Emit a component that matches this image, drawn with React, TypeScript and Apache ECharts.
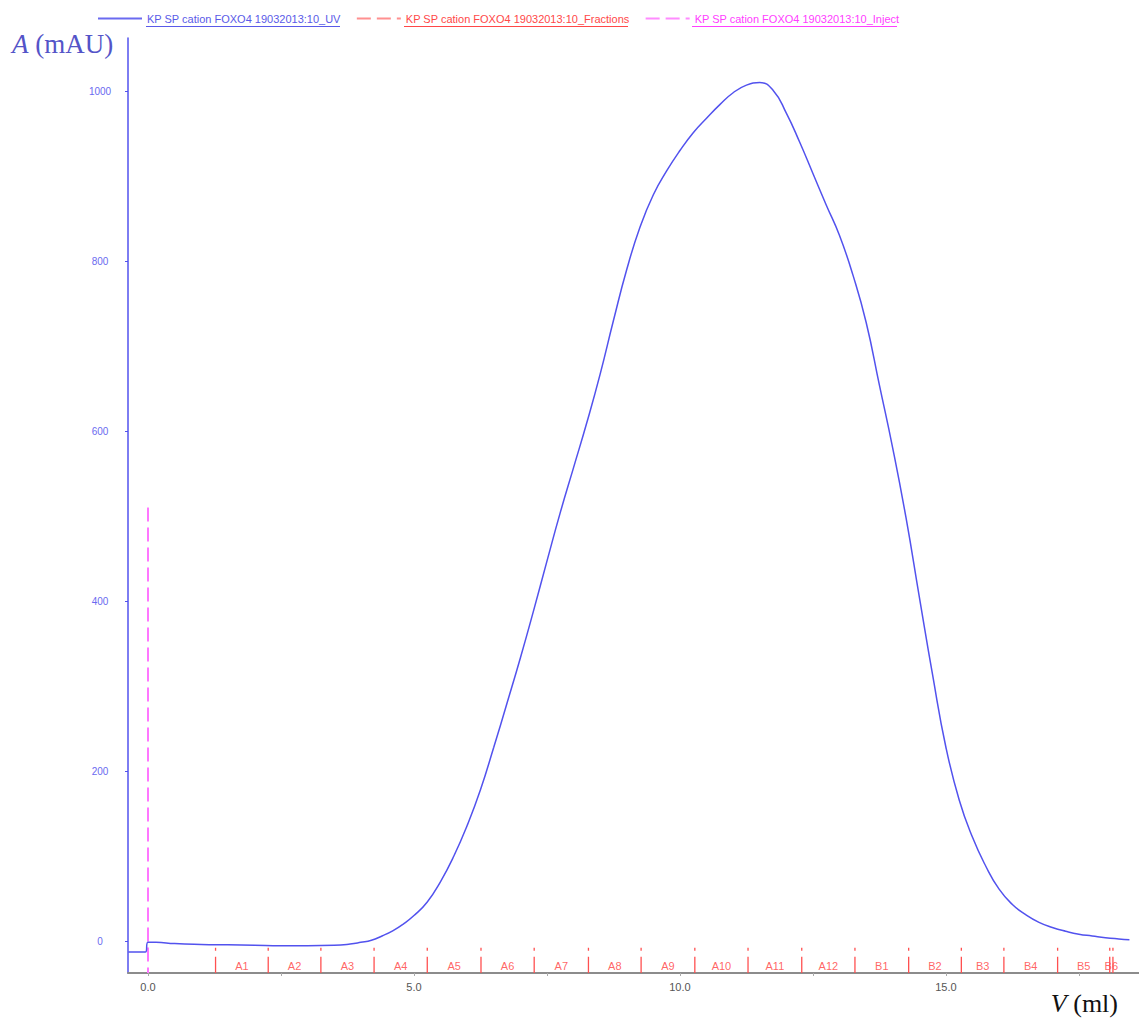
import React, { useEffect, useRef } from "react";
import * as echarts from "echarts";

// ---- data ----
const uvVolume = [
  -0.37, -0.05, 0.0, 0.15, 0.5, 1.0, 1.5, 2.0, 2.5, 3.0, 3.5, 3.8, 4.0, 4.2, 4.4, 4.6, 4.8,
  5.0, 5.25, 5.5, 5.75, 6.0, 6.25, 6.5, 6.75, 7.0, 7.25, 7.5, 7.75, 8.0, 8.25, 8.5, 8.75,
  9.0, 9.25, 9.5, 9.75, 10.0, 10.25, 10.5, 10.75, 11.0, 11.25, 11.5, 11.75, 12.0, 12.25,
  12.5, 12.75, 13.0, 13.25, 13.5, 13.75, 14.0, 14.25, 14.5, 14.75, 15.0,
  15.25, 15.5, 15.75, 16.0, 16.25, 16.5, 16.75, 17.0, 17.25, 17.5, 17.75, 18.0, 18.25, 18.45,
];
const uvAbsorbance = [
  -13, -13, -1.5, -1.5, -3, -4, -4.5, -5, -5.5, -5.5, -5, -3.5, -1.5, 1, 6, 12, 20,
  30, 46, 70, 100, 136, 178, 228, 280, 333, 389, 447, 504, 557, 610, 667, 730,
  790, 840, 878, 906, 930, 951, 968, 984, 998, 1007, 1010, 1001, 974, 940,
  903, 866, 830, 784, 728, 654, 580, 498, 405, 313, 228,
  166, 122, 88, 61, 43, 31, 22, 16, 11.5, 8, 6, 4, 2.5, 1.5,
];
const fractionBoundaries = [
  1.27, 2.26, 3.25, 4.25, 5.25, 6.26, 7.26, 8.28, 9.27, 10.28, 11.28, 12.29, 13.29,
  14.3, 15.29, 16.09, 17.1, 18.08, 18.14,
];
const fractionNames = [
  "A1", "A2", "A3", "A4", "A5", "A6", "A7", "A8", "A9", "A10", "A11", "A12",
  "B1", "B2", "B3", "B4", "B5", "B6",
];
const injectVolume = 0;
const injectTop = 510;
const xLabelTicks = [0, 5, 10, 15];
const xMinorTicks = [0, 2.5, 5, 7.5, 10, 12.5, 15, 17.5];
const yTicks = [0, 200, 400, 600, 800, 1000];

const UV_NAME = "KP SP cation FOXO4 19032013:10_UV";
const FR_NAME = "KP SP cation FOXO4 19032013:10_Fractions";
const INJ_NAME = "KP SP cation FOXO4 19032013:10_Inject";

const X_MIN = -0.376;
const X_MAX = 18.63;
const Y_MIN = -37.6;
const Y_MAX = 1062.4;

const BLUE = "#5252ee";
const RED = "#ff5050";
const MAGENTA = "#ff77ff";

export default function App() {
  const ref = useRef<HTMLDivElement>(null);

  useEffect(() => {
    if (!ref.current) return;
    const chart = echarts.init(ref.current, undefined, { renderer: "svg" });

    const uvData = uvVolume.map((v, i) => [v, uvAbsorbance[i]]);
    const fracData: any[] = [];
    fractionBoundaries.forEach((b) => {
      fracData.push([b, -8]);
      fracData.push([b, Y_MIN]);
      fracData.push([b, "-"]);
    });
    const fracLabels = fractionNames.map((n, i) => ({
      name: n,
      value: [(fractionBoundaries[i] + fractionBoundaries[i + 1]) / 2, -29],
    }));

    const sansFont = "Liberation Sans, Arial, sans-serif";
    const serifFont = "'Liberation Serif', 'Times New Roman', serif";

    chart.setOption({
      animation: false,
      backgroundColor: "#ffffff",
      grid: {
        left: 128,
        right: 0,
        top: 38,
        bottom: 49,
        containLabel: false,
        outerBoundsMode: "none",
      },
      legend: {
        left: 97,
        top: 13,
        padding: 0,
        itemWidth: 44,
        itemHeight: 14,
        itemGap: 15,
        selectedMode: false,
        itemStyle: { opacity: 0 },
        textStyle: { fontSize: 11, fontFamily: sansFont },
        data: [
          {
            name: UV_NAME,
            textStyle: { color: "#5a5ae8" },
            itemStyle: { opacity: 0 },
            lineStyle: { color: "#6a6af0", width: 2 },
          },
          {
            name: FR_NAME,
            textStyle: { color: "#ff4848" },
            itemStyle: { opacity: 0 },
            lineStyle: { type: [14, 6], color: "#ff9090", width: 2 },
          },
          {
            name: INJ_NAME,
            textStyle: { color: "#ff40ff" },
            itemStyle: { opacity: 0 },
            lineStyle: { type: [14, 6], color: "#ff8cff", width: 2 },
          },
        ],
      },
      xAxis: {
        type: "value",
        min: X_MIN,
        max: X_MAX,
        splitLine: { show: false },
        axisLine: { show: true, onZero: false, lineStyle: { color: "#8c8c8c", width: 2 } },
        axisTick: {
          show: true,
          customValues: xMinorTicks,
          length: 3,
          lineStyle: { color: "#aaaaaa" },
        },
        axisLabel: {
          customValues: xLabelTicks,
          formatter: (v: number) => v.toFixed(1),
          color: "#555555",
          fontSize: 11,
          fontFamily: sansFont,
          margin: 8,
        },
      },
      yAxis: {
        type: "value",
        min: Y_MIN,
        max: Y_MAX,
        splitLine: { show: false },
        axisLine: { show: true, onZero: false, lineStyle: { color: BLUE, width: 1.5 } },
        axisTick: {
          show: true,
          customValues: yTicks,
          length: 3,
          lineStyle: { color: BLUE },
        },
        axisLabel: {
          customValues: yTicks,
          formatter: (v: number) => String(v),
          color: "#6a6af0",
          fontSize: 10,
          fontFamily: sansFont,
          align: "center",
          margin: 28,
        },
      },
      series: [
        {
          name: UV_NAME,
          type: "line",
          data: uvData,
          symbol: "none",
          color: BLUE,
          smooth: 0.5,
          lineStyle: { color: BLUE, width: 1.5 },
          z: 5,
        },
        {
          name: FR_NAME,
          type: "line",
          data: fracData,
          symbol: "none",
          color: RED,
          connectNulls: false,
          lineStyle: { color: RED, width: 1.3, type: [3, 6, 40, 6] },
          z: 3,
        },
        {
          name: INJ_NAME,
          type: "line",
          data: [
            [injectVolume, injectTop],
            [injectVolume, Y_MIN],
          ],
          symbol: "none",
          color: MAGENTA,
          lineStyle: { color: MAGENTA, width: 2, type: [14, 6] },
          z: 4,
        },
        {
          name: "Fraction labels",
          type: "scatter",
          data: fracLabels,
          symbolSize: 1,
          itemStyle: { color: "transparent" },
          silent: true,
          label: {
            show: true,
            position: "inside",
            formatter: (p: any) => p.name,
            color: "#ff3c3c",
            fontSize: 11,
            fontFamily: sansFont,
          },
          z: 2,
        },
      ],
      graphic: [
        {
          type: "text",
          left: 12,
          top: 30,
          style: {
            text: "{i|A} (mAU)",
            font: "27px " + serifFont,
            fill: "#5454c8",
            rich: {
              i: { fontStyle: "italic", fontSize: 27, fontFamily: serifFont, fill: "#5454c8" },
            },
          },
        },
        {
          type: "text",
          right: 21,
          top: 990,
          style: {
            text: "{i|V} (ml)",
            font: "26px " + serifFont,
            fill: "#111111",
            rich: {
              i: { fontStyle: "italic", fontSize: 26, fontFamily: serifFont, fill: "#111111" },
            },
          },
        },
        // legend underlines
        { type: "line", shape: { x1: 146, y1: 26.5, x2: 340, y2: 26.5 }, style: { stroke: "#5a5ae8", lineWidth: 1 }, silent: true },
        { type: "line", shape: { x1: 404, y1: 26.5, x2: 628, y2: 26.5 }, style: { stroke: "#ff4848", lineWidth: 1 }, silent: true },
        { type: "line", shape: { x1: 692, y1: 26.5, x2: 897, y2: 26.5 }, style: { stroke: "#ff40ff", lineWidth: 1 }, silent: true },
      ],
    });

    return () => chart.dispose();
  }, []);

  return (
    <div
      ref={ref}
      style={{ position: "fixed", left: 0, top: 0, width: 1139, height: 1022, background: "#fff" }}
    />
  );
}
